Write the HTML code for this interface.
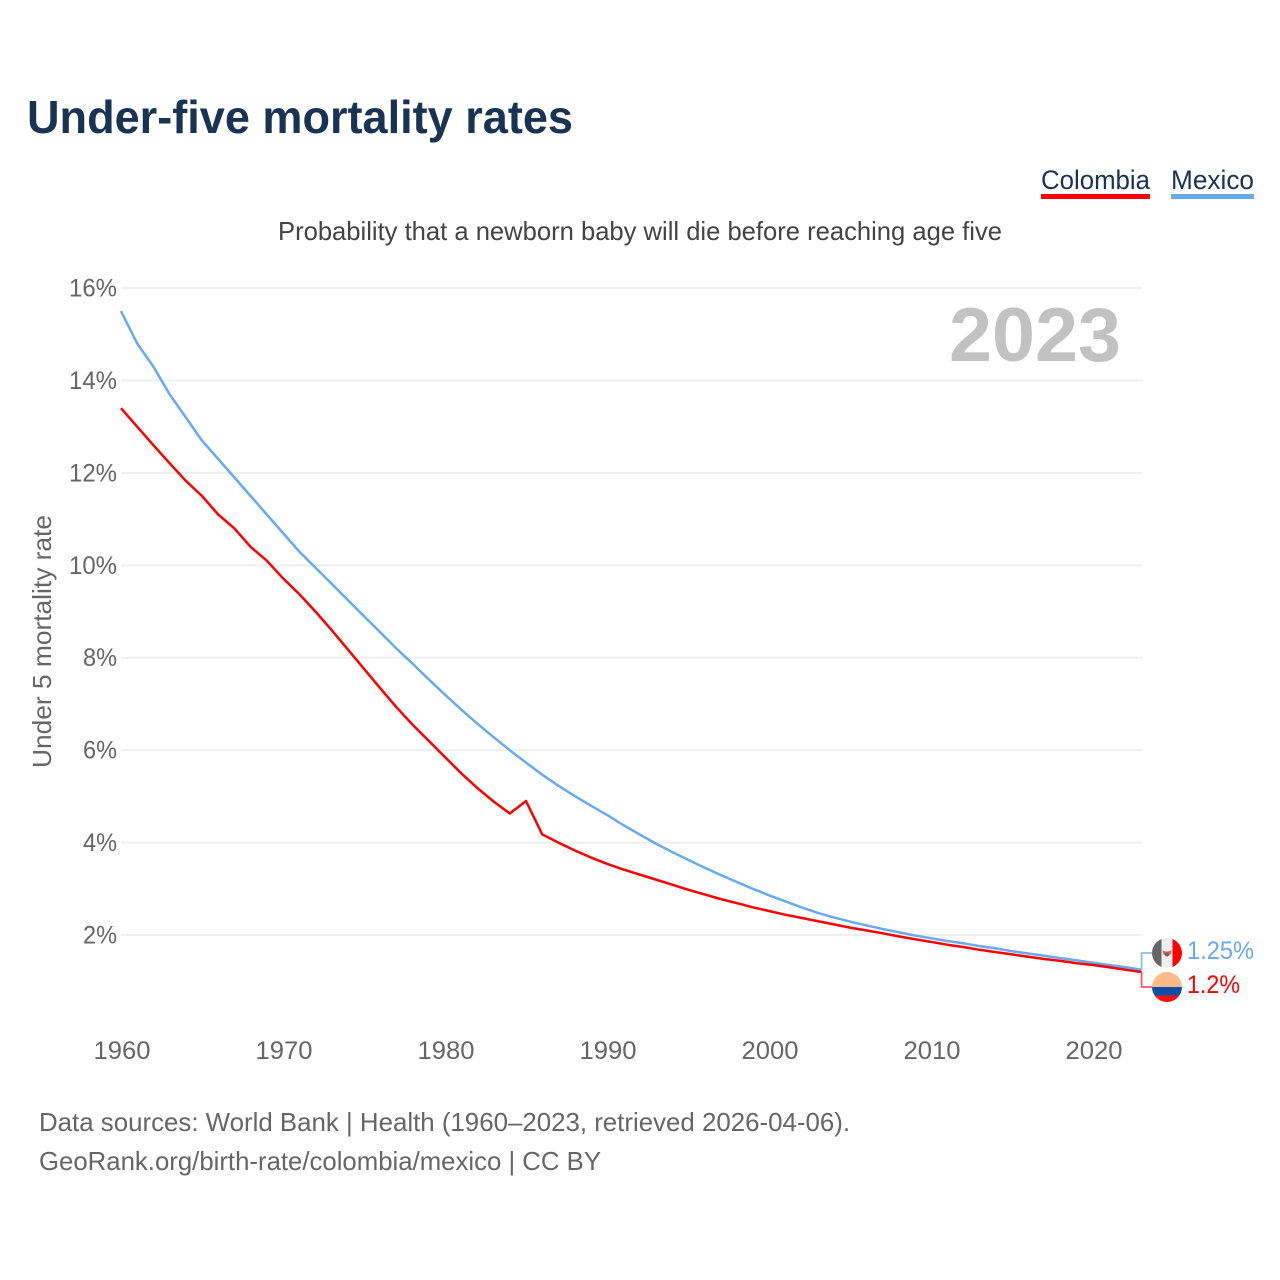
<!DOCTYPE html>
<html lang="en">
<head>
<meta charset="utf-8">
<title>Under-five mortality rates</title>
<style>
html,body{margin:0;padding:0;background:#fff;}
svg{display:block;font-family:"Liberation Sans",sans-serif;}
</style>
</head>
<body>
<svg id="chart" xmlns="http://www.w3.org/2000/svg" width="1280" height="1280" viewBox="0 0 1280 1280">
  <rect width="1280" height="1280" fill="#fff"/>
  <text x="27" y="133" font-size="46" font-weight="700" fill="#1a3353" textLength="546" lengthAdjust="spacingAndGlyphs">Under-five mortality rates</text>
  <text x="1041" y="189" font-size="27" fill="#1a3353" textLength="109" lengthAdjust="spacingAndGlyphs">Colombia</text>
  <rect x="1041" y="194" width="109" height="5" fill="#ff0000"/>
  <text x="1171" y="189" font-size="27" fill="#1a3353" textLength="83" lengthAdjust="spacingAndGlyphs">Mexico</text>
  <rect x="1171" y="194" width="83" height="5" fill="#6aa9ec"/>
  <text x="278" y="240" font-size="26" fill="#444" textLength="724" lengthAdjust="spacingAndGlyphs">Probability that a newborn baby will die before reaching age five</text>
  <text transform="translate(51,768) rotate(-90)" font-size="26" fill="#666" textLength="253" lengthAdjust="spacingAndGlyphs">Under 5 mortality rate</text>
  <g id="grid"></g>
  <g id="yticks"></g>
  <g id="xticks"></g>
  <text x="949" y="361" font-size="76" font-weight="700" fill="#c2c2c2" textLength="172" lengthAdjust="spacingAndGlyphs">2023</text>
  <g id="series"></g>
  <g id="connectors"></g>
  <defs>
    <clipPath id="clip-mx"><circle cx="1167" cy="953" r="15"/></clipPath>
    <clipPath id="clip-co"><circle cx="1167" cy="987" r="15"/></clipPath>
  </defs>
  <g clip-path="url(#clip-mx)">
    <rect x="1152" y="938" width="9.500" height="30" fill="#666"/>
    <rect x="1161.500" y="938" width="11" height="30" fill="#efefef"/>
    <rect x="1172.500" y="938" width="9.500" height="30" fill="#ff0000"/>
    <path d="M1162.500 950.500q4.500 2 9 0l-1 4q-3.500 2.500 -7 0z" fill="#e0604c"/>
    <circle cx="1167" cy="954.500" r="2" fill="#666"/>
  </g>
  <g clip-path="url(#clip-co)">
    <rect x="1152" y="972" width="30" height="15" fill="#ffba88"/>
    <rect x="1152" y="987" width="30" height="8.500" fill="#0b4fa8"/>
    <rect x="1152" y="995.500" width="30" height="7" fill="#ff0f0f"/>
  </g>
  <text x="1187" y="959" font-size="25" fill="#6aa9ec" textLength="67" lengthAdjust="spacingAndGlyphs">1.25%</text>
  <text x="1187" y="993" font-size="25" fill="#ff0000" textLength="53" lengthAdjust="spacingAndGlyphs">1.2%</text>
  <text x="39" y="1131" font-size="26" fill="#666" textLength="811" lengthAdjust="spacingAndGlyphs">Data sources: World Bank | Health (1960–2023, retrieved 2026-04-06).</text>
  <text x="39" y="1170" font-size="26" fill="#666" textLength="562" lengthAdjust="spacingAndGlyphs">GeoRank.org/birth-rate/colombia/mexico | CC BY</text>
</svg>
<script>
const startYear = 1960;
const yTickValues = [2, 4, 6, 8, 10, 12, 14, 16];
const xTickValues = [1960, 1970, 1980, 1990, 2000, 2010, 2020];
const colombiaValues = [13.4,13.0,12.6,12.21,11.83,11.5,11.1,10.8,10.4,10.1,9.72,9.38,9.0,8.6,8.18,7.76,7.34,6.93,6.55,6.2,5.85,5.5,5.18,4.89,4.63,4.9,4.18,4.0,3.83,3.68,3.54,3.42,3.31,3.2,3.09,2.98,2.88,2.78,2.69,2.6,2.52,2.44,2.37,2.3,2.23,2.16,2.1,2.04,1.97,1.91,1.85,1.79,1.74,1.68,1.63,1.58,1.53,1.48,1.44,1.39,1.35,1.3,1.25,1.2];
const mexicoValues = [15.5,14.8,14.3,13.7,13.2,12.7,12.3,11.9,11.5,11.1,10.7,10.3,9.95,9.6,9.25,8.9,8.55,8.2,7.87,7.53,7.2,6.88,6.57,6.28,6.0,5.73,5.47,5.23,5.01,4.8,4.6,4.38,4.18,3.98,3.8,3.63,3.46,3.3,3.15,3.0,2.86,2.73,2.6,2.48,2.38,2.29,2.21,2.13,2.06,1.99,1.93,1.87,1.82,1.76,1.71,1.65,1.6,1.55,1.5,1.45,1.4,1.35,1.3,1.25];

const NS = 'http://www.w3.org/2000/svg';
function xScale(year) { return 121 + (year - 1960) * 16.2; }
function yScale(v) { return 935 - (v - 2) * 46.21; }
function make(tag, attrs, parent, text) {
  const el = document.createElementNS(NS, tag);
  for (const k in attrs) el.setAttribute(k, attrs[k]);
  if (text !== undefined) el.textContent = text;
  parent.appendChild(el);
  return el;
}

const grid = document.getElementById('grid');
const yticks = document.getElementById('yticks');
yTickValues.forEach(function (v) {
  const y = yScale(v);
  const line = make('line', {x1: 121, x2: 1142, y1: y, y2: y, stroke: '#efefef', 'stroke-width': 2}, grid);
  
  
  const label = v + '%';
  const t = make('text', {x: 117, y: y + 8.5, 'text-anchor': 'end', 'font-size': 25, fill: '#666', textLength: label.length === 3 ? 48 : 34, lengthAdjust: 'spacingAndGlyphs'}, yticks, label);
  
  
});

const xticks = document.getElementById('xticks');
xTickValues.forEach(function (yr) {
  const t = make('text', {x: xScale(yr) + 1, y: 1059, 'text-anchor': 'middle', 'font-size': 25, fill: '#666', textLength: 57, lengthAdjust: 'spacingAndGlyphs'}, xticks, String(yr));
  
  
});

function linePath(values) {
  return values.map(function (v, i) {
    return (i ? 'L' : 'M') + xScale(startYear + i).toFixed(1) + ' ' + yScale(v).toFixed(1);
  }).join('');
}
const series = document.getElementById('series');
const mexicoLine = make('path', {d: linePath(mexicoValues), fill: 'none', stroke: '#6aa9ec', 'stroke-width': 2.5, 'stroke-linejoin': 'round'}, series);


const colombiaLine = make('path', {d: linePath(colombiaValues), fill: 'none', stroke: '#ff0000', 'stroke-width': 2.5, 'stroke-linejoin': 'round'}, series);



const connectors = document.getElementById('connectors');
const lastYearX = xScale(startYear + mexicoValues.length - 1);
const mxY = yScale(mexicoValues[mexicoValues.length - 1]);
const coY = yScale(colombiaValues[colombiaValues.length - 1]);
const mxConn = make('path', {d: 'M' + lastYearX + ' ' + mxY + 'V953H1152', fill: 'none', stroke: '#8fbcee', 'stroke-width': 1.8}, connectors);


const coConn = make('path', {d: 'M' + lastYearX + ' ' + coY + 'V987H1152', fill: 'none', stroke: '#ff5a5a', 'stroke-width': 1.8}, connectors);


</script>
</body>
</html>
